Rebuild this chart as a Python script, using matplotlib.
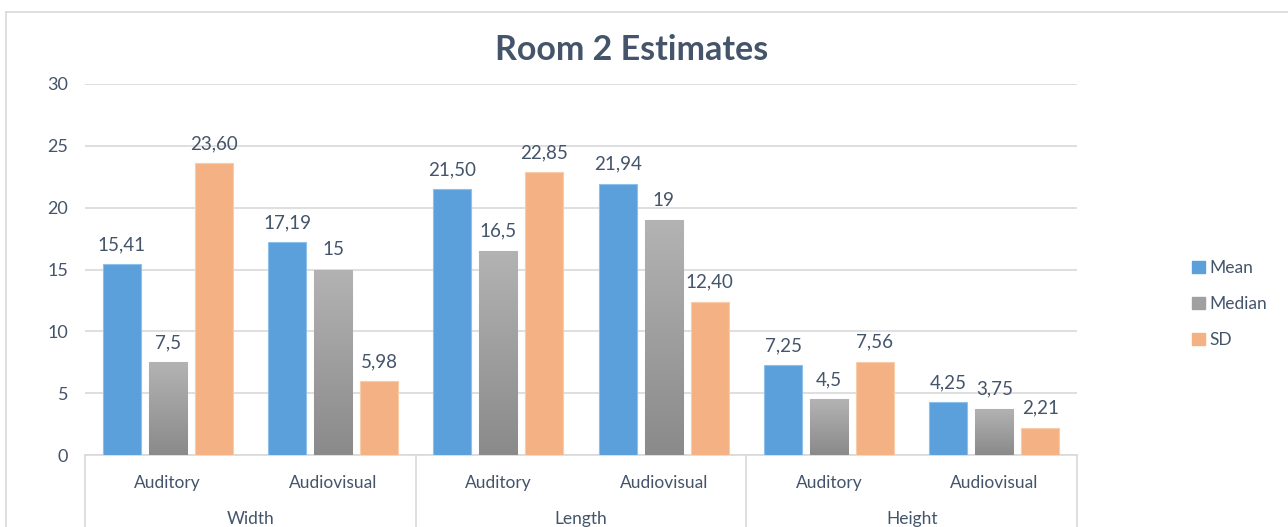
import numpy as np
import matplotlib
matplotlib.use("Agg")
import matplotlib.pyplot as plt
from matplotlib.patches import Patch
from matplotlib.colors import LinearSegmentedColormap

plt.rcParams['font.family'] = ['Lato', 'DejaVu Sans']

groups = ['Width', 'Length', 'Height']
conditions = ['Auditory', 'Audiovisual']
series = ['Mean', 'Median', 'SD']
mean = [15.41, 17.19, 21.50, 21.94, 7.25, 4.25]
median = [7.5, 15, 16.5, 19, 4.5, 3.75]
sd = [23.60, 5.98, 22.85, 12.40, 7.56, 2.21]

txt = '#44546A'
grid = '#D9D9D9'
blue = '#5B9FDB'
orange = '#F4B183'

fig = plt.figure(figsize=(12.88, 5.27), dpi=100)
ax = fig.add_axes([85/1288, 1-455/527, 992/1288, 371/527])

x = np.arange(len(mean))
step = 0.278
w = 0.23

b1 = ax.bar(x - step, mean, w, color=blue, edgecolor='#8DC0EA', linewidth=0.8, zorder=3)
b2 = ax.bar(x, median, w, color='#A0A0A0', edgecolor='#D0D0D0', linewidth=0.8, zorder=3)
b3 = ax.bar(x + step, sd, w, color=orange, edgecolor='#F8CCAA', linewidth=0.8, zorder=3)

# gray gradient for median bars
cmap = LinearSegmentedColormap.from_list('g', ['#8A8A8A', '#B3B3B3'])
grad = np.linspace(0, 1, 256).reshape(-1, 1)
for p in b2:
    x0 = p.get_x()
    h = p.get_height()
    im = ax.imshow(grad, cmap=cmap, origin='lower', aspect='auto',
                   extent=[x0, x0 + p.get_width(), 0, h], zorder=3.5)
    im.set_clip_path(p)

def lab(v, dec):
    s = f"{v:.2f}" if dec else f"{v:g}"
    return s.replace('.', ',')

for bars, vals, dec in [(b1, mean, True), (b2, median, False), (b3, sd, True)]:
    for p, v in zip(bars, vals):
        ax.annotate(lab(v, dec), (p.get_x() + p.get_width()/2, v), xytext=(0, 8),
                    textcoords='offset points', ha='center', va='bottom',
                    fontsize=13.5, color=txt)

ax.set_xlim(-0.5, 5.5)
ax.set_ylim(0, 30)
ax.set_yticks(range(0, 31, 5))
ax.tick_params(axis='y', length=0, labelsize=13, labelcolor=txt, pad=12)
ax.set_xticks([])
ax.grid(axis='y', color=grid, linewidth=1.2, zorder=0)
for s in ['top', 'right', 'left']:
    ax.spines[s].set_visible(False)
ax.spines['bottom'].set_color(grid)
ax.spines['bottom'].set_linewidth(1.2)

for i in x:
    ax.text(i, -0.075, conditions[i % 2], transform=ax.get_xaxis_transform(),
            ha='center', va='center', fontsize=12.5, color=txt)
for g, name in enumerate(groups):
    ax.text(2*g + 0.5, -0.172, name, transform=ax.get_xaxis_transform(),
            ha='center', va='center', fontsize=12.5, color=txt)
for xs in [-0.5, 1.5, 3.5, 5.5]:
    ax.plot([xs, xs], [0, -0.21], transform=ax.get_xaxis_transform(),
            color=grid, linewidth=1.2, clip_on=False)

fig.text(632/1288, 1-50/527, 'Room 2 Estimates', ha='center', va='center',
         fontsize=24.5, fontweight='bold', color=txt)

# outer chart border
fig.add_artist(plt.Line2D([6/1288, 6/1288], [0, 1-12/527], color='#D9D9D9', linewidth=1.2))
fig.add_artist(plt.Line2D([6/1288, 1], [1-12/527, 1-12/527], color='#D9D9D9', linewidth=1.2))

handles = [Patch(color=blue), Patch(color='#A0A0A0'), Patch(color=orange)]
fig.legend(handles, series, loc='center left', bbox_to_anchor=(1176/1288, 1-304/527),
           frameon=False, handlelength=0.75, handleheight=0.75, handletextpad=0.3,
           labelspacing=1.15, fontsize=12.5, labelcolor=txt)

fig.savefig('out.png', dpi=100)
